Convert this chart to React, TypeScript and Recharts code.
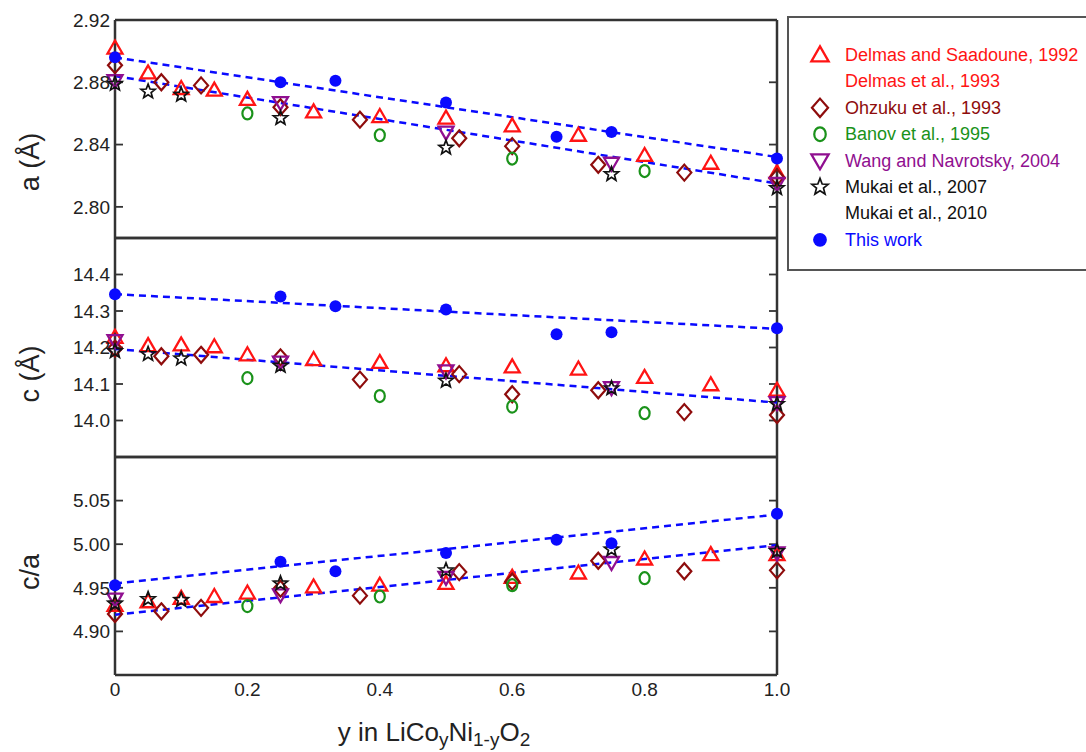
import React from 'react';
import { ComposedChart, Scatter, XAxis, YAxis } from 'recharts';

// ---- tick values ----
const xTicks = [0, 0.2, 0.4, 0.6, 0.8, 1.0];
const aTicks = [2.80, 2.84, 2.88, 2.92];
const cTicks = [14.0, 14.1, 14.2, 14.3, 14.4];
const caTicks = [4.90, 4.95, 5.00, 5.05];

// ---- Delmas and Saadoune, 1992 (open triangle) ----
const delmasX = [0, 0.05, 0.1, 0.15, 0.2, 0.3, 0.4, 0.5, 0.6, 0.7, 0.8, 0.9, 1.0];
const delmasA = [2.902, 2.886, 2.876, 2.875, 2.869, 2.861, 2.858, 2.857, 2.852, 2.846, 2.833, 2.828, 2.822];
const delmasC = [14.228, 14.205, 14.207, 14.202, 14.180, 14.167, 14.159, 14.150, 14.147, 14.141, 14.118, 14.098, 14.083];
const delmasCA = [4.930, 4.934, 4.938, 4.940, 4.944, 4.951, 4.953, 4.955, 4.962, 4.967, 4.983, 4.988, 4.988];

// ---- Ohzuku et al., 1993 (open diamond) ----
const ohzukuX = [0, 0.07, 0.13, 0.25, 0.37, 0.52, 0.6, 0.73, 0.86, 1.0];
const ohzukuA = [2.891, 2.880, 2.878, 2.864, 2.856, 2.844, 2.839, 2.827, 2.822, 2.819];
const ohzukuC = [14.197, 14.176, 14.180, 14.173, 14.112, 14.127, 14.072, 14.083, 14.023, 14.015];
const ohzukuCA = [4.920, 4.923, 4.927, 4.949, 4.941, 4.968, 4.957, 4.981, 4.969, 4.970];

// ---- Banov et al., 1995 (open circle) ----
const banovX = [0.2, 0.4, 0.6, 0.8];
const banovA = [2.860, 2.846, 2.831, 2.823];
const banovC = [14.116, 14.067, 14.038, 14.020];
const banovCA = [4.929, 4.940, 4.953, 4.961];

// ---- Wang and Navrotsky, 2004 (open inverted triangle) ----
const wangX = [0, 0.25, 0.5, 0.75, 1.0];
const wangA = [2.881, 2.867, 2.848, 2.828, 2.815];
const wangC = [14.219, 14.160, 14.136, 14.090, 14.049];
const wangCA = [4.937, 4.942, 4.962, 4.979, 4.990];

// ---- Mukai et al., 2007 (open star) ----
const mukaiX = [0, 0.05, 0.1, 0.25, 0.5, 0.75, 1.0];
const mukaiA = [2.879, 2.874, 2.872, 2.857, 2.838, 2.821, 2.812];
const mukaiC = [14.190, 14.182, 14.170, 14.150, 14.109, 14.088, 14.045];
const mukaiCA = [4.932, 4.937, 4.936, 4.955, 4.970, 4.994, 4.992];

// ---- This work (filled blue circle) ----
const workX = [0, 0.25, 0.333, 0.5, 0.667, 0.75, 1.0];
const workA = [2.896, 2.880, 2.881, 2.867, 2.845, 2.848, 2.831];
const workC = [14.346, 14.340, 14.313, 14.304, 14.236, 14.242, 14.253];
const workCA = [4.953, 4.980, 4.969, 4.990, 5.005, 5.001, 5.035];

// ---- dashed linear fits (end points) ----
const fitX = [0, 1.0];
const fitUpperA = [2.896, 2.832];
const fitLowerA = [2.884, 2.815];
const fitUpperC = [14.346, 14.251];
const fitLowerC = [14.196, 14.049];
const fitUpperCA = [4.955, 5.034];
const fitLowerCA = [4.919, 4.999];

const RED = '#ff1414';
const DARKRED = '#8e0c0c';
const GREEN = '#1a921a';
const PURPLE = '#900f90';
const BLUE = '#0a0aff';
const AXIS = '#333';

const pts = (xs: number[], ys: number[]) => xs.map((x, i) => ({ x, y: ys[i] }));

// ---- marker shapes ----
const Triangle = ({ cx, cy, s = 1 }: any) => (
  <polygon
    points={`${cx},${cy - 7.5 * s} ${cx - 7.5 * s},${cy + 5.5 * s} ${cx + 7.5 * s},${cy + 5.5 * s}`}
    fill="none" stroke={RED} strokeWidth={2.3} />
);
const InvTriangle = ({ cx, cy, s = 1 }: any) => (
  <polygon
    points={`${cx - 7.5 * s},${cy - 5.5 * s} ${cx + 7.5 * s},${cy - 5.5 * s} ${cx},${cy + 7.5 * s}`}
    fill="none" stroke={PURPLE} strokeWidth={2.3} />
);
const Diamond = ({ cx, cy, s = 1 }: any) => (
  <polygon
    points={`${cx},${cy - 8 * s} ${cx + 7 * s},${cy} ${cx},${cy + 8 * s} ${cx - 7 * s},${cy}`}
    fill="none" stroke={DARKRED} strokeWidth={2.2} />
);
const OpenCircle = ({ cx, cy, s = 1 }: any) => (
  <ellipse cx={cx} cy={cy} rx={5 * s} ry={6 * s} fill="none" stroke={GREEN} strokeWidth={2.2} />
);
const Star = ({ cx, cy, s = 1 }: any) => {
  const p: string[] = [];
  for (let i = 0; i < 10; i++) {
    const r = (i % 2 === 0 ? 7.5 : 3.2) * s;
    const ang = -Math.PI / 2 + (i * Math.PI) / 5;
    p.push(`${cx + r * Math.cos(ang)},${cy + r * Math.sin(ang)}`);
  }
  return <polygon points={p.join(' ')} fill="none" stroke="#111" strokeWidth={1.7} />;
};
const Dot = ({ cx, cy, s = 1 }: any) => <circle cx={cx} cy={cy} r={6 * s} fill={BLUE} />;
const NoShape = () => <g />;
const NoTick = () => <g />;

const fitLine = { stroke: BLUE, strokeWidth: 2.5, strokeDasharray: '7 5' };
const frameLine = { stroke: AXIS, strokeWidth: 2.5 };
const tickMark = { stroke: AXIS, strokeWidth: 1.8 };

type PanelProps = {
  plotTop: number;
  plotH: number;
  domain: [number, number];
  ticks: number[];
  fmt: (v: number) => string;
  delmas: number[];
  ohzuku: number[];
  banov: number[];
  wang: number[];
  mukai: number[];
  work: number[];
  fitUp: number[];
  fitLow: number[];
  showX?: boolean;
};

const Panel = (p: PanelProps) => {
  const mt = 10;
  const mb = p.showX ? 0 : 10;
  const xh = p.showX ? 34 : 0;
  const height = mt + p.plotH + mb + xh;
  const tickFont = { fill: '#222', fontSize: 19 };
  return (
    <div style={{ position: 'absolute', left: 0, top: p.plotTop - mt }}>
      <ComposedChart width={790} height={height} margin={{ top: mt, right: 13, bottom: mb, left: 0 }}>
        {/* labelled axes */}
        <XAxis
          type="number" dataKey="x" domain={[0, 1]} ticks={xTicks} interval={0}
          height={34} hide={!p.showX} tickSize={0} tickMargin={8} tick={tickFont}
          tickFormatter={(v: number) => (v === 0 ? '0' : v.toFixed(1))}
          axisLine={false} tickLine={false}
        />
        <YAxis
          type="number" dataKey="y" domain={p.domain} ticks={p.ticks} interval={0}
          width={115} tickSize={0} tickMargin={5} tick={tickFont} tickFormatter={p.fmt}
          axisLine={false} tickLine={false} allowDataOverflow
        />
        {/* frame with inward ticks */}
        <XAxis xAxisId="bm" orientation="bottom" mirror type="number" dataKey="x" domain={[0, 1]}
          ticks={xTicks} interval={0} tick={NoTick} tickSize={8} axisLine={frameLine} tickLine={tickMark} />
        <XAxis xAxisId="tm" orientation="top" mirror type="number" dataKey="x" domain={[0, 1]}
          ticks={xTicks} interval={0} tick={NoTick} tickSize={8} axisLine={frameLine} tickLine={tickMark} />
        <YAxis yAxisId="lm" orientation="left" mirror type="number" dataKey="y" domain={p.domain}
          ticks={p.ticks} interval={0} tick={NoTick} tickSize={8} axisLine={frameLine} tickLine={tickMark}
          allowDataOverflow />
        <YAxis yAxisId="rm" orientation="right" mirror type="number" dataKey="y" domain={p.domain}
          ticks={p.ticks} interval={0} tick={NoTick} tickSize={8} axisLine={frameLine} tickLine={tickMark}
          allowDataOverflow />

        <Scatter data={pts(fitX, p.fitUp)} fill={BLUE} line={fitLine} shape={NoShape} isAnimationActive={false} />
        <Scatter data={pts(fitX, p.fitLow)} fill={BLUE} line={fitLine} shape={NoShape} isAnimationActive={false} />
        <Scatter data={pts(delmasX, p.delmas)} shape={Triangle} isAnimationActive={false} />
        <Scatter data={pts(ohzukuX, p.ohzuku)} shape={Diamond} isAnimationActive={false} />
        <Scatter data={pts(banovX, p.banov)} shape={OpenCircle} isAnimationActive={false} />
        <Scatter data={pts(wangX, p.wang)} shape={InvTriangle} isAnimationActive={false} />
        <Scatter data={pts(mukaiX, p.mukai)} shape={Star} isAnimationActive={false} />
        <Scatter data={pts(workX, p.work)} shape={Dot} isAnimationActive={false} />
      </ComposedChart>
    </div>
  );
};

const legendRows = [
  { label: 'Delmas and Saadoune, 1992', color: RED, Mark: Triangle },
  { label: 'Delmas et al., 1993', color: RED, Mark: null },
  { label: 'Ohzuku et al., 1993', color: DARKRED, Mark: Diamond },
  { label: 'Banov et al., 1995', color: GREEN, Mark: OpenCircle },
  { label: 'Wang and Navrotsky, 2004', color: PURPLE, Mark: InvTriangle },
  { label: 'Mukai et al., 2007', color: '#111', Mark: Star },
  { label: 'Mukai et al., 2010', color: '#111', Mark: null },
  { label: 'This work', color: BLUE, Mark: Dot },
];

const LegendBox = () => (
  <svg width={299} height={256} style={{ position: 'absolute', left: 787, top: 16 }}>
    <rect x={1} y={1} width={400} height={253} fill="#fff" stroke="#555" strokeWidth={2} />
    {legendRows.map((r, i) => {
      const cy = 39 + i * 26.4;
      const M: any = r.Mark;
      return (
        <g key={r.label}>
          {M && <M cx={33} cy={cy} s={1.15} />}
          <text x={58} y={cy} dominantBaseline="central" fontSize={18} fill={r.color}>{r.label}</text>
        </g>
      );
    })}
  </svg>
);

export default function App() {
  return (
    <div style={{
      position: 'absolute', left: 0, top: 0, width: 1086, height: 752, overflow: 'hidden',
      background: '#fff', fontFamily: '"Liberation Sans", Arial, sans-serif'
    }}>
      <Panel plotTop={20} plotH={218} domain={[2.78, 2.92]} ticks={aTicks} fmt={(v) => v.toFixed(2)}
        delmas={delmasA} ohzuku={ohzukuA} banov={banovA} wang={wangA} mukai={mukaiA} work={workA}
        fitUp={fitUpperA} fitLow={fitLowerA} />
      <Panel plotTop={238} plotH={219} domain={[13.9, 14.5]} ticks={cTicks} fmt={(v) => v.toFixed(1)}
        delmas={delmasC} ohzuku={ohzukuC} banov={banovC} wang={wangC} mukai={mukaiC} work={workC}
        fitUp={fitUpperC} fitLow={fitLowerC} />
      <Panel plotTop={457} plotH={218} domain={[4.85, 5.10]} ticks={caTicks} fmt={(v) => v.toFixed(2)}
        delmas={delmasCA} ohzuku={ohzukuCA} banov={banovCA} wang={wangCA} mukai={mukaiCA} work={workCA}
        fitUp={fitUpperCA} fitLow={fitLowerCA} showX />

      {/* axis titles */}
      <svg width={1086} height={752} style={{ position: 'absolute', left: 0, top: 0, pointerEvents: 'none' }}>
        <text transform="translate(30,162) rotate(-90)" textAnchor="middle" dominantBaseline="central" fontSize={27} fill="#222">a (Å)</text>
        <text transform="translate(30,374) rotate(-90)" textAnchor="middle" dominantBaseline="central" fontSize={27} fill="#222">c (Å)</text>
        <text transform="translate(30,572) rotate(-90)" textAnchor="middle" dominantBaseline="central" fontSize={27} fill="#222">c/a</text>
        <text x={434} y={741} textAnchor="middle" fontSize={26} fill="#222">
          <tspan>y in LiCo</tspan>
          <tspan fontSize={19} dy={5}>y</tspan>
          <tspan dy={-5}>Ni</tspan>
          <tspan fontSize={19} dy={5}>1-y</tspan>
          <tspan dy={-5}>O</tspan>
          <tspan fontSize={19} dy={5}>2</tspan>
        </text>
      </svg>

      <LegendBox />
    </div>
  );
}
